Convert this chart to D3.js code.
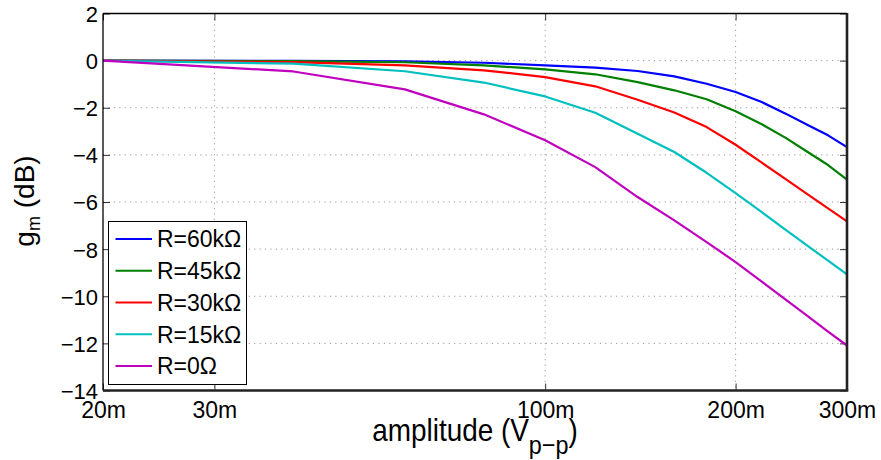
<!DOCTYPE html>
<html><head><meta charset="utf-8">
<script src="https://cdn.jsdelivr.net/npm/d3@7"></script>
<style>
body{margin:0;background:#fff;}
text{font-family:"Liberation Sans",Arial,Helvetica,sans-serif;fill:#000;}
</style></head><body>
<svg id="chart" width="881" height="460"></svg>
<script>
// amplitudes (V p-p)
const amplitudes = [0.02,0.04,0.06,0.08,0.10,0.12,0.14,0.16,0.18,0.20,0.22,0.24,0.26,0.28,0.30];
const seriesNames = ["R=60kΩ","R=45kΩ","R=30kΩ","R=15kΩ","R=0Ω"];
const r60 = [0,-0.01,-0.03,-0.09,-0.20,-0.30,-0.44,-0.67,-0.98,-1.33,-1.76,-2.25,-2.73,-3.17,-3.67];
const r45 = [0,-0.02,-0.07,-0.20,-0.37,-0.58,-0.91,-1.26,-1.64,-2.15,-2.70,-3.28,-3.88,-4.43,-5.05];
const r30 = [0,-0.06,-0.20,-0.41,-0.70,-1.09,-1.66,-2.20,-2.82,-3.57,-4.33,-5.03,-5.68,-6.27,-6.82];
const r15 = [0,-0.13,-0.45,-0.93,-1.52,-2.21,-3.10,-3.88,-4.76,-5.62,-6.43,-7.18,-7.86,-8.49,-9.07];
const r0  = [0,-0.46,-1.22,-2.28,-3.38,-4.52,-5.79,-6.78,-7.70,-8.55,-9.38,-10.14,-10.84,-11.50,-12.09];
const seriesValues = [r60,r45,r30,r15,r0];
const colors = ["#0000ff","#008000","#ff0000","#00bfbf","#bf00bf"];
const xTickValues = [0.02,0.03,0.1,0.2,0.3];
const xTickLabels = ["20m","30m","100m","200m","300m"];
const yTickValues = [-14,-12,-10,-8,-6,-4,-2,0,2];

const svg = d3.select("#chart");
const L=103, R=847, T=13.5, B=390.5;
const x = d3.scaleLog().domain([0.02,0.3]).range([L,R]);
const y = d3.scaleLinear().domain([-14,2]).range([B,T]);

// grid
const grid = svg.append("g").attr("stroke","#9a9a9a").attr("stroke-width",1).attr("stroke-dasharray","1.2,4.2");
grid.selectAll(".vg").data(xTickValues.slice(1,-1)).enter().append("line")
  .attr("x1",d=>x(d)).attr("x2",d=>x(d)).attr("y1",T).attr("y2",B);
grid.selectAll(".hg").data(yTickValues.slice(1,-1)).enter().append("line")
  .attr("x1",L).attr("x2",R).attr("y1",d=>y(d)).attr("y2",d=>y(d));

const fmtY = d => d<0 ? "\u2212"+Math.abs(d) : String(d);

// axes
const gx = svg.append("g").attr("transform",`translate(0,${B})`)
  .call(d3.axisBottom(x).tickValues(xTickValues).tickFormat((d,i)=>xTickLabels[i]).tickSizeInner(-7).tickSizeOuter(0).tickPadding(11));
const gy = svg.append("g").attr("transform",`translate(${L},0)`)
  .call(d3.axisLeft(y).tickValues(yTickValues).tickFormat(fmtY).tickSizeInner(-7).tickSizeOuter(0).tickPadding(5));
const gt = svg.append("g").attr("transform",`translate(0,${T})`)
  .call(d3.axisTop(x).tickValues(xTickValues).tickFormat("").tickSizeInner(-7).tickSizeOuter(0));
const gr = svg.append("g").attr("transform",`translate(${R},0)`)
  .call(d3.axisRight(y).tickValues(yTickValues).tickFormat("").tickSizeInner(-7).tickSizeOuter(0));
[gx,gy,gt,gr].forEach(g=>{
  g.selectAll(".domain").remove();
  g.selectAll(".tick line").attr("stroke","#333").attr("stroke-width",1);
  g.selectAll("text").style("font-family",'"Liberation Sans",Arial,sans-serif').attr("fill","#000");
});
gx.selectAll("text").style("font-size","23px");
gy.selectAll("text").style("font-size","22px").attr("dy","0.36em");

// series lines
const line = d3.line().x((d,i)=>x(amplitudes[i])).y(d=>y(d));
svg.append("g").selectAll("path").data(seriesValues).enter().append("path")
  .attr("d",line).attr("fill","none").attr("stroke",(d,i)=>colors[i]).attr("stroke-width",2.2)
  .attr("stroke-linejoin","round");

// box
svg.append("line").attr("x1",L).attr("x2",R).attr("y1",T).attr("y2",T).attr("stroke","#000").attr("stroke-width",1.3);
svg.append("line").attr("x1",L).attr("x2",L).attr("y1",T).attr("y2",B).attr("stroke","#000").attr("stroke-width",1.3);
svg.append("line").attr("x1",L).attr("x2",R+1.3).attr("y1",B).attr("y2",B).attr("stroke","#222").attr("stroke-width",2.6);
svg.append("line").attr("x1",R).attr("x2",R).attr("y1",T-0.6).attr("y2",B).attr("stroke","#222").attr("stroke-width",2.6);

// legend
const lg = svg.append("g");
lg.append("rect").attr("x",108.5).attr("y",221.5).attr("width",138).attr("height",163)
  .attr("fill","#fff").attr("stroke","#000").attr("stroke-width",1);
const ly = d3.scaleLinear().domain([0,4]).range([239,366]);
seriesNames.forEach((n,i)=>{
  lg.append("line").attr("x1",115.5).attr("x2",152).attr("y1",ly(i)).attr("y2",ly(i))
    .attr("stroke",colors[i]).attr("stroke-width",2.2);
  lg.append("text").attr("x",157).attr("y",ly(i)).attr("dy","0.36em")
    .style("font-size","23px").text(n);
});

// axis labels
const xl = svg.append("text").attr("transform",`translate(${(L+R)/2},441) scale(0.9,1)`)
  .attr("text-anchor","middle").style("font-size","31px");
xl.append("tspan").text("amplitude (V");
xl.append("tspan").attr("dy",13).style("font-size","26px").text("p\u2212p");
xl.append("tspan").attr("dy",-13).text(")");

const yl = svg.append("text").attr("transform","translate(34,201) rotate(-90)").attr("text-anchor","middle").style("font-size","28px");
yl.append("tspan").text("g");
yl.append("tspan").attr("dy",6).style("font-size","18px").text("m");
yl.append("tspan").attr("dy",-6).text(" (dB)");
</script>
</body></html>
